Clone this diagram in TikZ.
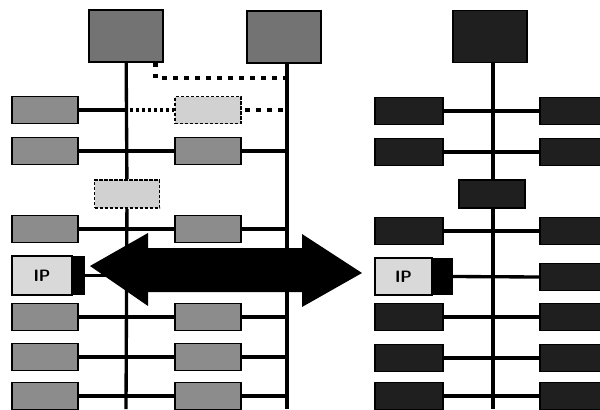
\documentclass[tikz,border=0pt]{standalone}
\usepackage{tikz}
\usetikzlibrary{positioning,calc}

\begin{document}
\begin{tikzpicture}[
    x=0.3mm, y=-0.3mm,
    core/.style={rectangle,draw=black,line width=1.1pt,fill=black!45,inner sep=0pt,
                 minimum width=19.8mm,minimum height=8.1mm},
    host/.style={core,fill=black!55,minimum width=22.2mm,minimum height=15.6mm},
    ghost/.style={core,fill=black!18,line width=0.5mm,dash pattern=on 1mm off 0.5mm},
    dark/.style={core,fill=black!88,minimum width=20.4mm},
    ipcore/.style={rectangle,draw=black,line width=1.1pt,fill=black!15,inner sep=0pt,
                   minimum width=18mm,minimum height=11.7mm,
                   font=\fontsize{14}{14}\selectfont\sffamily\bfseries},
    strip/.style={rectangle,fill=black,inner sep=0pt,minimum width=3.6mm,minimum height=11.7mm},
    bus/.style={line width=1mm},
    mainbus/.style={line width=1.3mm},
    dots/.style={line width=1.35mm,dash pattern=on 1.3mm off 2mm},
    finedots/.style={line width=1mm,dash pattern=on 1mm off 0.8mm},
]
\useasboundingbox (0,0) rectangle (600,409);

% left panel: two hosts before the move
\node[host] (hostA) at (126,36) {};
\node[host] (hostB) at (284,37) {};
\coordinate (busA) at (126,409);
\coordinate (busBtop) at (287,63);
\coordinate (busB) at (287,409);

\node[core] (a1) at (45,110) {};
\node[ghost] (m1) at (208,110) {};
\node[core] (a2) at (45,151) {};
\node[core] (m2) at (208,151) {};
\node[ghost,minimum width=19.5mm,minimum height=8.4mm] (mig) at (127,194) {};
\node[core] (a3) at (45,229) {};
\node[core] (m3) at (208,229) {};
\node[ipcore] (ipA) at (42,275.5) {IP};
\node[strip,right=0pt of ipA] (ipAs) {};
\node[core] (a5) at (45,317) {};
\node[core] (m5) at (208,317) {};
\node[core] (a6) at (45,357) {};
\node[core] (m6) at (208,357) {};
\node[core] (a7) at (45,396) {};
\node[core] (m7) at (208,396) {};

\draw[bus] (hostA) -- (mig);
\draw[bus] (mig) -- (busA);
\draw[mainbus] (busBtop) -- (busB);

\draw[dots] ([xshift=-2.4mm]hostA.south east) |- ([yshift=-4.5mm]busBtop);
\draw[bus] (a1.east) -- (a1.east -| busA);
\draw[finedots] ([xshift=1.2mm]a1.east -| busA) -- (m1.west);
\draw[dots] ([xshift=1mm]m1.east) -- (m1.east -| busB);
\draw[bus] (a2.east) -- (m2.west);
\draw[bus] (m2.east) -- (m2.east -| busB);
\draw[bus] (a3.east) -- (m3.west);
\draw[bus] (m3.east) -- (m3.east -| busB);
\draw[bus] (ipAs.east) -- (ipAs.east -| busA);
\draw[bus] (a5.east) -- (m5.west);
\draw[bus] (m5.east) -- (m5.east -| busB);
\draw[bus] (a6.east) -- (m6.west);
\draw[bus] (m6.east) -- (m6.east -| busB);
\draw[bus] (a7.east) -- (m7.west);
\draw[bus] (m7.east) -- (m7.east -| busB);

% the move
\fill[black] (90,266) -- (148,233) -- (148,248) -- (302,248) -- (302,234)
  -- (362,273) -- (302,307) -- (302,292) -- (148,292) -- (148,306) -- cycle;

% right panel: one host after the move
\node[host,fill=black!88] (hostC) at (490,36.5) {};
\coordinate (busC) at (493,409);
\node[dark] (c1) at (409,111) {};
\node[dark] (d1) at (574,111) {};
\node[dark] (c2) at (409,152) {};
\node[dark] (d2) at (574,152) {};
\node[dark,minimum width=19.8mm,minimum height=8.4mm] (midC) at (492,194) {};
\node[dark] (c3) at (409,231) {};
\node[dark] (d3) at (574,231) {};
\node[ipcore,minimum width=17.1mm,minimum height=11.1mm] (ipC) at (403.5,276.5) {IP};
\node[strip,minimum width=6mm,minimum height=11.1mm,right=0pt of ipC] (ipCs) {};
\node[dark] (d4) at (574,277) {};
\node[dark] (c5) at (409,317) {};
\node[dark] (d5) at (574,317) {};
\node[dark] (c6) at (409,358) {};
\node[dark] (d6) at (574,358) {};
\node[dark] (c7) at (409,396) {};
\node[dark] (d7) at (574,396) {};

\draw[mainbus] (hostC.south -| busC) -- (midC.north -| busC);
\draw[mainbus] (midC.south -| busC) -- (busC);
\draw[bus] (c1.east) -- (d1.west);
\draw[bus] (c2.east) -- (d2.west);
\draw[bus] (c3.east) -- (d3.west);
\draw[bus] (ipCs.east) -- (d4.west);
\draw[bus] (c5.east) -- (d5.west);
\draw[bus] (c6.east) -- (d6.west);
\draw[bus] (c7.east) -- (d7.west);

\end{tikzpicture}
\end{document}
